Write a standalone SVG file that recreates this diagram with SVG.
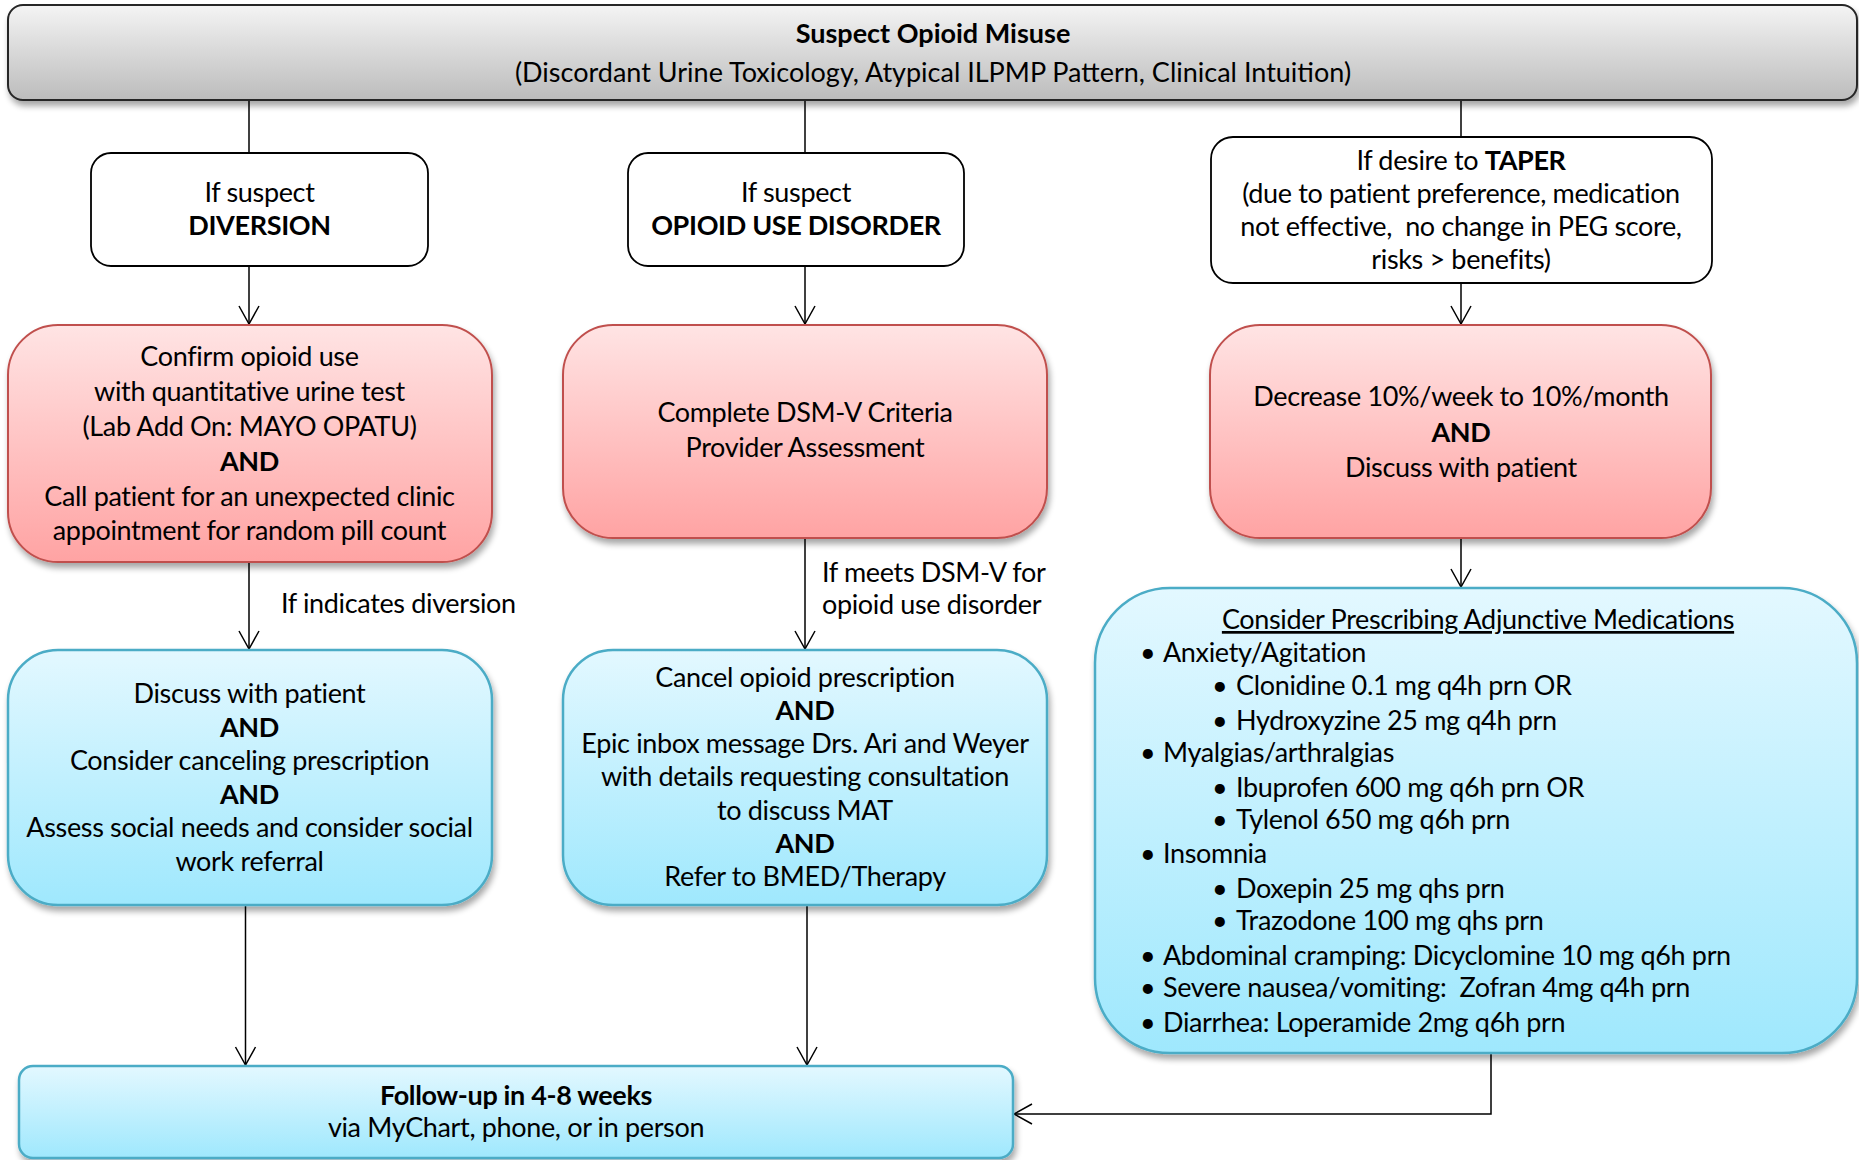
<svg xmlns="http://www.w3.org/2000/svg" width="1859" height="1160" viewBox="0 0 1859 1160">
<defs>
<style>
.t{font-family:Lato,"Liberation Sans",sans-serif;font-size:27px;fill:#000;text-anchor:middle;letter-spacing:-0.35px}
.b{font-weight:bold}
.l{text-anchor:start}
.pre{white-space:pre}
.ns{letter-spacing:0}
.conn{stroke:#000;stroke-width:1.5;fill:none}
.pink{fill:url(#gPink);stroke:#c0504d;stroke-width:2}
.blue{fill:url(#gBlue);stroke:#4bacc6;stroke-width:2.5}
.white{fill:#fff;stroke:#000;stroke-width:1.8}
.gray{fill:url(#gGray);stroke:#262626;stroke-width:2}
</style>
<linearGradient id="gGray" x1="0" y1="0" x2="0" y2="1"><stop offset="0" stop-color="#f4f4f4"/><stop offset="1" stop-color="#bcbcbc"/></linearGradient>
<linearGradient id="gPink" x1="0" y1="0" x2="0" y2="1"><stop offset="0" stop-color="#ffe4e4"/><stop offset="1" stop-color="#ffa3a3"/></linearGradient>
<linearGradient id="gBlue" x1="0" y1="0" x2="0" y2="1"><stop offset="0" stop-color="#e3f8ff"/><stop offset="1" stop-color="#9fe8fd"/></linearGradient>
<filter id="sh" x="-5%" y="-5%" width="110%" height="120%">
<feGaussianBlur in="SourceAlpha" stdDeviation="3"/>
<feOffset dx="2" dy="5" result="o"/>
<feComponentTransfer><feFuncA type="linear" slope="0.35"/></feComponentTransfer>
<feMerge><feMergeNode/><feMergeNode in="SourceGraphic"/></feMerge>
</filter>
<marker id="arr" markerUnits="userSpaceOnUse" viewBox="-20 -12 22 24" refX="0" refY="0" markerWidth="22" markerHeight="24" orient="auto" overflow="visible">
<path d="M-18,-10 L0,0 L-18,10" fill="none" stroke="#000" stroke-width="1.5"/>
</marker>
</defs>

<g id="connectors">
<line class="conn" x1="249" y1="100" x2="249" y2="153"/>
<line class="conn" x1="805" y1="100" x2="805" y2="153"/>
<line class="conn" x1="1461" y1="100" x2="1461" y2="137"/>
<line class="conn" x1="249" y1="266" x2="249" y2="324" marker-end="url(#arr)"/>
<line class="conn" x1="805" y1="266" x2="805" y2="324" marker-end="url(#arr)"/>
<line class="conn" x1="1461" y1="283" x2="1461" y2="324" marker-end="url(#arr)"/>
<line class="conn" x1="249" y1="563" x2="249" y2="649" marker-end="url(#arr)"/>
<line class="conn" x1="805" y1="538" x2="805" y2="649" marker-end="url(#arr)"/>
<line class="conn" x1="1461" y1="538" x2="1461" y2="587" marker-end="url(#arr)"/>
<line class="conn" x1="245.5" y1="905" x2="245.5" y2="1065" marker-end="url(#arr)"/>
<line class="conn" x1="807" y1="905" x2="807" y2="1065" marker-end="url(#arr)"/>
<path class="conn" d="M1491,1053 L1491,1114 L1014,1114" marker-end="url(#arr)"/>
<text class="t l" x="281" y="613">If indicates diversion</text>
<text class="t l" x="822" y="582">If meets DSM-V for</text>
<text class="t l" x="822" y="614">opioid use disorder</text>
</g>

<g id="n-top">
<rect class="gray" x="8" y="5" width="1849" height="95" rx="15" filter="url(#sh)"/>
<text class="t b ns" x="933" y="43">Suspect Opioid Misuse</text>
<text class="t ns" x="933" y="82">(Discordant Urine Toxicology, Atypical ILPMP Pattern, Clinical Intuition)</text>
</g>

<g id="n-diversion">
<rect class="white" x="91" y="153" width="337" height="113" rx="20"/>
<text class="t" x="259.5" y="202">If suspect</text>
<text class="t b" x="259.5" y="235">DIVERSION</text>
</g>

<g id="n-oud">
<rect class="white" x="628" y="153" width="336" height="113" rx="20"/>
<text class="t" x="796" y="202">If suspect</text>
<text class="t b" x="796" y="235">OPIOID USE DISORDER</text>
</g>

<g id="n-taper">
<rect class="white" x="1211" y="137" width="501" height="146" rx="22"/>
<text class="t" x="1461" y="170">If desire to <tspan class="b">TAPER</tspan></text>
<text class="t" x="1461" y="203">(due to patient preference, medication</text>
<text class="t pre" x="1461" y="236">not effective,  no change in PEG score,</text>
<text class="t" x="1461" y="269">risks &gt; benefits)</text>
</g>

<g id="n-confirm">
<rect class="pink" x="8" y="325" width="484" height="237" rx="50" filter="url(#sh)"/>
<text class="t" x="249.5" y="366">Confirm opioid use</text>
<text class="t" x="249.5" y="401">with quantitative urine test</text>
<text class="t" x="249.5" y="436">(Lab Add On: MAYO OPATU)</text>
<text class="t b" x="249.5" y="471">AND</text>
<text class="t" x="249.5" y="506">Call patient for an unexpected clinic</text>
<text class="t" x="249.5" y="540">appointment for random pill count</text>
</g>

<g id="n-dsm">
<rect class="pink" x="563" y="325" width="484" height="213" rx="50" filter="url(#sh)"/>
<text class="t" x="805" y="422">Complete DSM-V Criteria</text>
<text class="t" x="805" y="457">Provider Assessment</text>
</g>

<g id="n-decrease">
<rect class="pink" x="1210" y="325" width="501" height="213" rx="50" filter="url(#sh)"/>
<text class="t" x="1461" y="406">Decrease 10%/week to 10%/month</text>
<text class="t b" x="1461" y="442">AND</text>
<text class="t" x="1461" y="477">Discuss with patient</text>
</g>

<g id="n-discuss">
<rect class="blue" x="8" y="650" width="484" height="255" rx="50" filter="url(#sh)"/>
<text class="t" x="249.5" y="703">Discuss with patient</text>
<text class="t b" x="249.5" y="737">AND</text>
<text class="t" x="249.5" y="770">Consider canceling prescription</text>
<text class="t b" x="249.5" y="804">AND</text>
<text class="t" x="249.5" y="837">Assess social needs and consider social</text>
<text class="t" x="249.5" y="871">work referral</text>
</g>

<g id="n-cancel">
<rect class="blue" x="563" y="650" width="484" height="255" rx="50" filter="url(#sh)"/>
<text class="t" x="805" y="687">Cancel opioid prescription</text>
<text class="t b" x="805" y="720">AND</text>
<text class="t" x="805" y="753">Epic inbox message Drs. Ari and Weyer</text>
<text class="t" x="805" y="786">with details requesting consultation</text>
<text class="t" x="805" y="820">to discuss MAT</text>
<text class="t b" x="805" y="853">AND</text>
<text class="t" x="805" y="886">Refer to BMED/Therapy</text>
</g>

<g id="n-adjunct">
<rect class="blue" x="1095" y="588" width="762" height="465" rx="75" filter="url(#sh)"/>
<text class="t" x="1478" y="629" text-decoration="underline">Consider Prescribing Adjunctive Medications</text>
<text class="t l" x="1140" y="662">•</text><text class="t l" x="1163" y="662">Anxiety/Agitation</text>
<text class="t l" x="1212" y="695">•</text><text class="t l" x="1236" y="695">Clonidine 0.1 mg q4h prn OR</text>
<text class="t l" x="1212" y="730">•</text><text class="t l" x="1236" y="730">Hydroxyzine 25 mg q4h prn</text>
<text class="t l" x="1140" y="762">•</text><text class="t l" x="1163" y="762">Myalgias/arthralgias</text>
<text class="t l" x="1212" y="797">•</text><text class="t l" x="1236" y="797">Ibuprofen 600 mg q6h prn OR</text>
<text class="t l" x="1212" y="829">•</text><text class="t l" x="1236" y="829">Tylenol 650 mg q6h prn</text>
<text class="t l" x="1140" y="863">•</text><text class="t l" x="1163" y="863">Insomnia</text>
<text class="t l" x="1212" y="898">•</text><text class="t l" x="1236" y="898">Doxepin 25 mg qhs prn</text>
<text class="t l" x="1212" y="930">•</text><text class="t l" x="1236" y="930">Trazodone 100 mg qhs prn</text>
<text class="t l" x="1140" y="965">•</text><text class="t l" x="1163" y="965">Abdominal cramping: Dicyclomine 10 mg q6h prn</text>
<text class="t l" x="1140" y="997">•</text><text class="t l pre" x="1163" y="997">Severe nausea/vomiting:  Zofran 4mg q4h prn</text>
<text class="t l" x="1140" y="1032">•</text><text class="t l" x="1163" y="1032">Diarrhea: Loperamide 2mg q6h prn</text>
</g>

<g id="n-followup">
<rect class="blue" x="19" y="1066" width="994" height="92" rx="14" filter="url(#sh)"/>
<text class="t b" x="516" y="1105">Follow-up in 4-8 weeks</text>
<text class="t" x="516" y="1137">via MyChart, phone, or in person</text>
</g>
</svg>
